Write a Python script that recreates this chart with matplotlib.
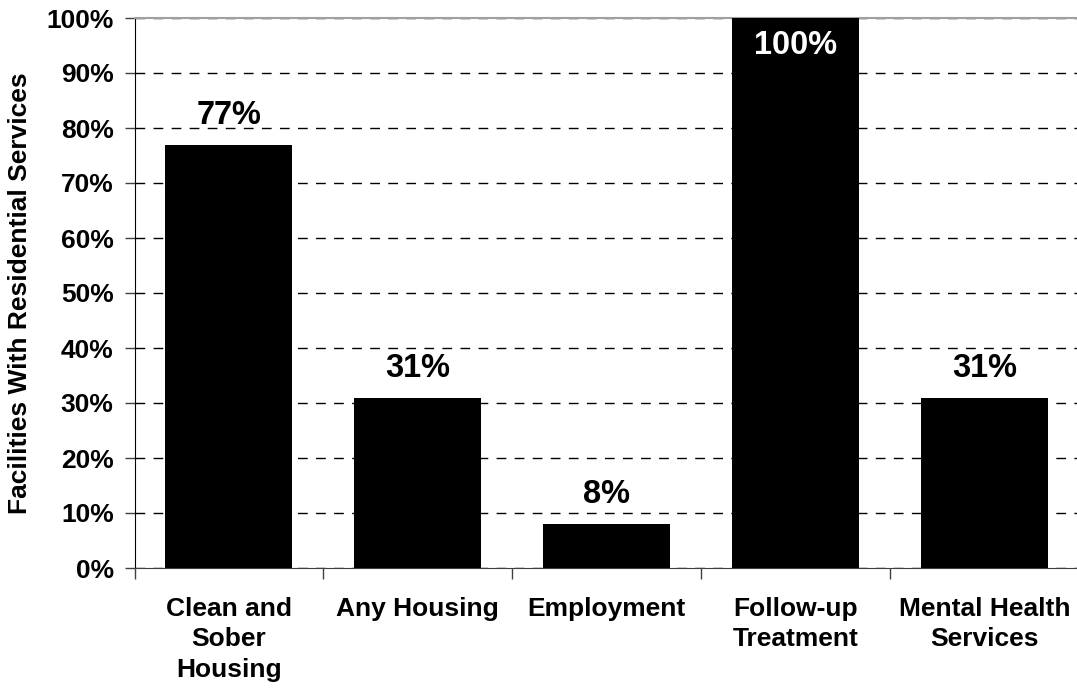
import matplotlib.pyplot as plt
import numpy as np

categories = ['Clean and\nSober\nHousing', 'Any Housing', 'Employment', 'Follow-up\nTreatment', 'Mental Health\nServices']
values = [77, 31, 8, 100, 31]
yticks = [0, 10, 20, 30, 40, 50, 60, 70, 80, 90, 100]

plt.rcParams['font.family'] = ['Liberation Sans', 'DejaVu Sans']
plt.rcParams['font.weight'] = 'bold'

fig = plt.figure(figsize=(10.77, 6.88), dpi=100)
ax = fig.add_axes([134.5/1077, 1-568/688, (1079-134.5)/1077, 550/688])
x = np.arange(len(categories))
ax.bar(x, values, width=0.672, color='black', zorder=3)
ax.set_xlim(-0.5, len(categories)-0.5); ax.set_ylim(0, 100)
ax.set_yticks(yticks); ax.set_yticklabels([f'{v}%' for v in yticks], fontsize=19, fontweight='bold')
ax.set_xticks(x); ax.set_xticklabels(categories, fontsize=19, fontweight='bold', linespacing=1.33)
ax.set_xticks(np.arange(-0.5, len(categories)), minor=True)
ax.tick_params(axis='x', which='major', length=0, pad=21)
ax.tick_params(axis='x', which='minor', length=8, width=1, color='#404040', direction='out')
ax.tick_params(axis='y', length=7, width=1, color='#404040', pad=8)
ax.yaxis.grid(True, linestyle=(0, (7, 6)), color='black', linewidth=1, zorder=0)
ax.spines['right'].set_visible(False)
ax.spines['top'].set_color('#a0a0a0'); ax.spines['top'].set_linewidth(1.5)
ax.spines['bottom'].set_color('#404040')
ax.spines['left'].set_color('black')
ax.set_ylabel('Facilities With Residential Services', fontsize=19, fontweight='bold', labelpad=10)
for xi, v in zip(x, values):
    if v >= 100:
        ax.annotate(f'{v}%', (xi, v), xytext=(0, -20), textcoords='offset points', ha='center', va='center', fontsize=23.5, fontweight='bold', color='white', zorder=4)
    else:
        ax.annotate(f'{v}%', (xi, v), xytext=(0, 21), textcoords='offset points', ha='center', va='center', fontsize=23.5, fontweight='bold', color='black', zorder=4)
fig.savefig('out.png', dpi=100)
